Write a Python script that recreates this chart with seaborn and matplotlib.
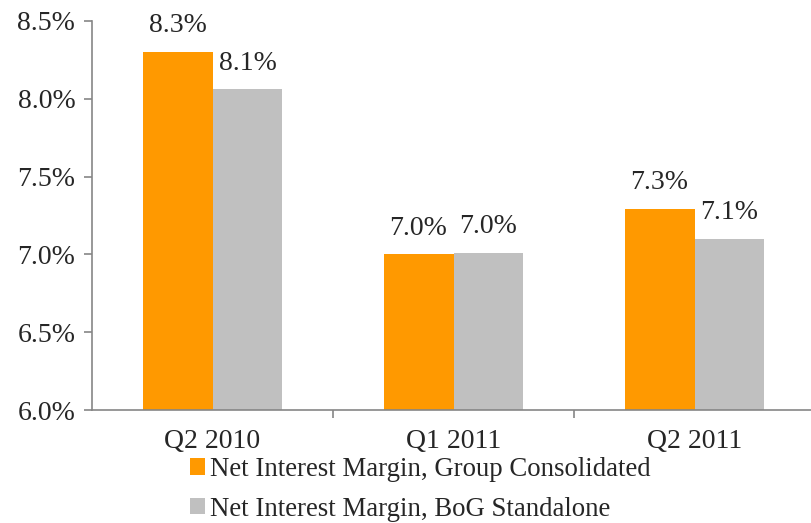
import matplotlib
matplotlib.use("Agg")
import matplotlib.pyplot as plt
import seaborn as sns
import pandas as pd
from matplotlib.patches import Patch
from matplotlib.ticker import FuncFormatter, FixedLocator

categories = ["Q2 2010", "Q1 2011", "Q2 2011"]
series_names = ["Net Interest Margin, Group Consolidated", "Net Interest Margin, BoG Standalone"]
group_values = [8.30, 7.00, 7.29]
bog_values = [8.06, 7.01, 7.10]
colors = ["#FF9900", "#C0C0C0"]

df = pd.DataFrame({
    "Quarter": categories * 2,
    "Series": [series_names[0]] * 3 + [series_names[1]] * 3,
    "Value": group_values + bog_values,
})

sns.set_style("white")
plt.rcParams["font.family"] = ["Liberation Serif", "DejaVu Serif"]

FS = 20

fig = plt.figure(figsize=(8.11, 5.23), dpi=100)
ax = fig.add_axes([92 / 811, 113 / 523, 723 / 811, 389 / 523])

sns.barplot(data=df, x="Quarter", y="Value", hue="Series", order=categories,
            hue_order=series_names, palette=colors, width=0.58, gap=0,
            saturation=1, ax=ax, legend=False)

for c in ax.containers:
    ax.bar_label(c, labels=[f"{v:.1f}%" for v in c.datavalues], padding=10, fontsize=FS)

for p in ax.patches:
    p.set_edgecolor("none")

ax.set_ylim(6.0, 8.5)
ax.set_xlim(-0.5, 2.5)
ax.set_yticks([6.0, 6.5, 7.0, 7.5, 8.0, 8.5])
ax.yaxis.set_major_formatter(FuncFormatter(lambda v, p: f"{v:.1f}%"))
ax.set_xlabel("")
ax.set_ylabel("")

for s in ["top", "right"]:
    ax.spines[s].set_visible(False)
for s in ["left", "bottom"]:
    ax.spines[s].set_color("#868686")
    ax.spines[s].set_linewidth(1.2)

ax.tick_params(axis="y", which="major", length=6, width=1.2, color="#868686",
               labelsize=FS, pad=6, left=True)
ax.tick_params(axis="x", which="major", length=0, labelsize=FS, pad=14)
ax.xaxis.set_minor_locator(FixedLocator([0.5, 1.5]))
ax.tick_params(axis="x", which="minor", length=6, width=1.2, color="#868686", bottom=True)

handles = [Patch(facecolor=colors[0], edgecolor="none"), Patch(facecolor=colors[1], edgecolor="none")]
fig.legend(handles, series_names, loc="upper left", bbox_to_anchor=(190 / 811, 1 - 457 / 523),
           frameon=False, fontsize=19.3, handlelength=0.55, handleheight=0.55,
           handletextpad=0.2, labelspacing=0.55, borderaxespad=0, borderpad=0)

fig.savefig("out.png", dpi=100)
